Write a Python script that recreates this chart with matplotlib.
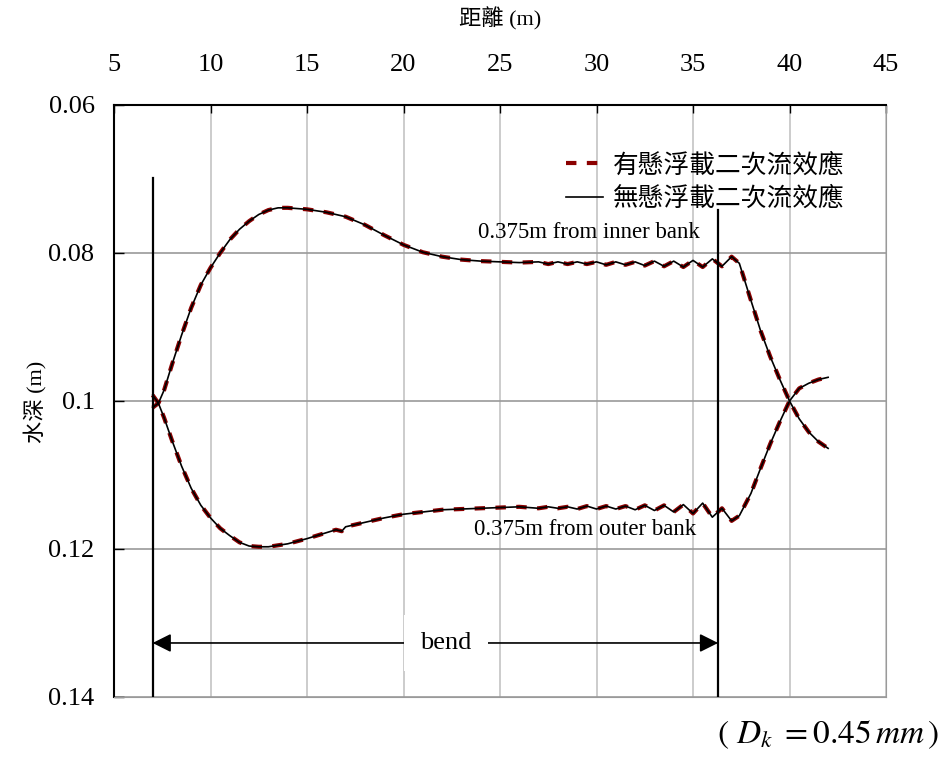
import matplotlib
matplotlib.use("Agg")
import matplotlib.pyplot as plt

# distance along channel (m) and water depth (m)
x_inner = [7.0, 7.3, 7.6, 8.0, 8.5, 9.0, 9.5, 10.0, 10.5, 11.0, 11.5, 12.0, 12.5, 13.0, 13.5,
           14.0, 15.0, 16.0, 17.0, 18.0, 19.0, 20.0, 21.0, 22.0, 23.0, 24.0, 25.0, 26.0,
           27.0, 27.5, 28.0, 28.5, 29.0, 29.5, 30.0, 30.5, 31.0, 31.5, 32.0, 32.5, 33.0,
           33.5, 34.0, 34.5, 35.0, 35.5, 36.0, 36.5, 37.0, 37.4, 38.0, 38.5, 39.0, 39.5,
           40.0, 40.5, 41.0, 41.5, 42.0]
d_inner = [0.1009, 0.1003, 0.0985, 0.0951, 0.0911, 0.0874, 0.0843, 0.0820, 0.0800, 0.0782,
           0.0768, 0.0757, 0.0748, 0.0742, 0.0739, 0.0739, 0.0741, 0.0745, 0.0751, 0.0762,
           0.0776, 0.0789, 0.0799, 0.0805, 0.0809, 0.0811, 0.0812, 0.0813,
           0.0812, 0.0815, 0.0812, 0.0815, 0.0812, 0.0815, 0.0812, 0.0816, 0.0812, 0.0816,
           0.0812, 0.0817, 0.0811, 0.0818, 0.0811, 0.0819, 0.0810, 0.0819, 0.0808, 0.0818,
           0.0805, 0.0814, 0.0864, 0.0905, 0.0940, 0.0971, 0.1000, 0.1024, 0.1042, 0.1055,
           0.1064]

x_outer = [7.0, 7.3, 7.6, 8.0, 8.5, 9.0, 9.5, 10.0, 10.5, 11.0, 11.5, 12.0, 12.5, 13.0,
           14.0, 15.0, 16.0, 16.5, 16.8, 17.0, 18.0, 19.0, 20.0, 21.0, 22.0, 23.0, 24.0,
           25.0, 26.0, 27.0, 27.5, 28.0, 28.5, 29.0, 29.5, 30.0, 30.5, 31.0, 31.5, 32.0,
           32.5, 33.0, 33.5, 34.0, 34.5, 35.0, 35.5, 36.0, 36.5, 37.0, 37.4, 38.0, 38.5,
           39.0, 39.5, 40.0, 40.5, 41.0, 41.5, 42.0]
d_outer = [0.0992, 0.1003, 0.1023, 0.1053, 0.1088, 0.1118, 0.1141, 0.1158, 0.1172, 0.1182,
           0.1191, 0.1196, 0.1197, 0.1197, 0.1193, 0.1186, 0.1178, 0.1174, 0.1176, 0.1170,
           0.1164, 0.1158, 0.1153, 0.1150, 0.1147, 0.1146, 0.1145, 0.1144, 0.1143,
           0.1145, 0.1143, 0.1145, 0.1143, 0.1146, 0.1142, 0.1146, 0.1142, 0.1146, 0.1142,
           0.1147, 0.1141, 0.1148, 0.1141, 0.1150, 0.1140, 0.1152, 0.1138, 0.1157, 0.1145,
           0.1162, 0.1155, 0.1125, 0.1091, 0.1058, 0.1028, 0.1000, 0.0983, 0.0976, 0.0971,
           0.0968]

bend_start, bend_end = 7.0, 36.3
legend_labels = ["有懸浮載二次流效應", "無懸浮載二次流效應"]

serif = "Liberation Serif"
cjk = ["Noto Sans CJK TC", "DejaVu Sans"]
mixed = [serif, "Noto Sans CJK TC"]

fig = plt.figure(figsize=(9.47, 7.64), dpi=100)
ax = fig.add_axes([0.1204, 0.0877, 0.8152, 0.7749])

for x, d in [(x_inner, d_inner), (x_outer, d_outer)]:
    ax.plot(x, d, color="#8b0000", lw=3, ls=(0, (2.5, 2.5)), zorder=3)
    ax.plot(x, d, color="black", lw=1.2, zorder=4)

ax.set_xlim(5, 45)
ax.set_ylim(0.14, 0.06)
ax.set_xticks(range(5, 46, 5))
ax.set_yticks([0.06, 0.08, 0.1, 0.12, 0.14])
ax.set_yticklabels(["0.06", "0.08", "0.1", "0.12", "0.14"])
ax.xaxis.tick_top()
ax.tick_params(axis="x", direction="in", length=6, width=1, pad=21, labelsize=19)
ax.tick_params(axis="y", direction="in", length=7, width=1, pad=14, labelsize=19)
for lab in ax.get_xticklabels() + ax.get_yticklabels():
    lab.set_fontfamily(serif)

ax.grid(True, axis="x", color="#c4c4c4", lw=1.2)
ax.grid(True, axis="y", color="#9a9a9a", lw=1.2)
ax.set_axisbelow(True)
ax.spines["top"].set_color("black")
ax.spines["left"].set_color("black")
ax.spines["top"].set_linewidth(1.5)
ax.spines["left"].set_linewidth(1.5)
ax.spines["right"].set_color("#9a9a9a")
ax.spines["bottom"].set_color("#9a9a9a")

# bend markers
ax.plot([bend_start, bend_start], [0.0699, 0.14], color="black", lw=1.6, zorder=5)
ax.plot([bend_end, bend_end], [0.0742, 0.14], color="black", lw=1.6, zorder=5)
ax.annotate("", xy=(bend_start, 0.1327), xytext=(bend_end, 0.1327),
            arrowprops=dict(arrowstyle="<|-|>", color="black", lw=1.2,
                            mutation_scale=28, shrinkA=0, shrinkB=0))
ax.text(22.2, 0.1327, "bend", ha="center", va="center", fontsize=19, family=serif,
        bbox=dict(facecolor="white", edgecolor="none", pad=12), zorder=6)

ax.text(29.6, 0.0772, "0.375m from inner bank", ha="center", va="center",
        fontsize=16.5, family=serif)
ax.text(29.4, 0.1174, "0.375m from outer bank", ha="center", va="center",
        fontsize=16.5, family=serif)

leg_handles = [plt.Line2D([], [], color="#8b0000", lw=3, ls=(0, (2.5, 2.5))),
               plt.Line2D([], [], color="black", lw=1.2)]
leg = ax.legend(leg_handles, legend_labels, loc="upper right",
                bbox_to_anchor=(0.946, 0.92), frameon=False, borderpad=0,
                borderaxespad=0, handlelength=1.45, handletextpad=0.36,
                labelspacing=0.3, prop={"family": cjk, "size": 18.5})

fig.text(0.528, 0.976, "距離 (m)", ha="center", va="center", fontsize=16, family=mixed)
fig.text(0.037, 0.474, "水深 (m)", ha="center", va="center", fontsize=16, family=mixed,
         rotation=90)
fig.text(0.874, 0.038, r"$(\ D_k\ = 0.45\,mm\,)$", ha="center", va="center",
         fontsize=24, math_fontfamily="stix")

fig.savefig("out.png", dpi=100)
